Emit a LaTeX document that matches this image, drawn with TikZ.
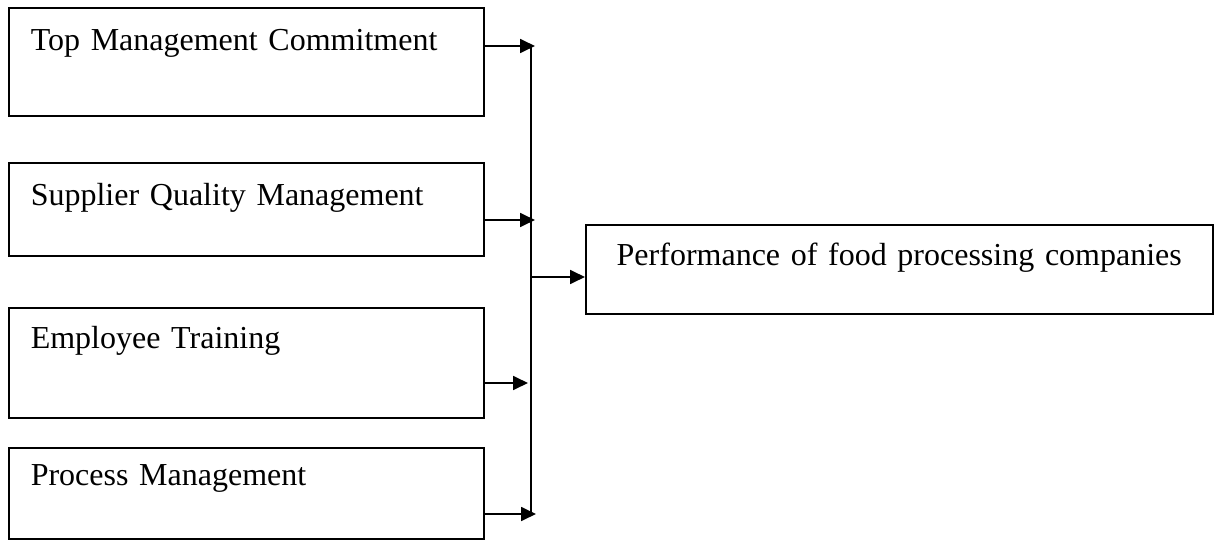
\documentclass[tikz,border=0pt]{standalone}
\usepackage{fontspec}
\setmainfont{Liberation Serif}
\usetikzlibrary{arrows.meta,positioning}
\tikzset{
  flow/.style={-{Triangle[length=5.6pt,width=5.2pt]}, line width=0.75pt, draw=black},
  bus/.style={line width=0.75pt, draw=black},
  factorbox/.style={draw=black, line width=0.6pt, anchor=north west, inner xsep=8.25pt, inner ysep=0pt, text width=161.6pt, align=left, font=\fontsize{12pt}{14pt}\selectfont},
  outcomebox/.style={draw=black, line width=0.6pt, anchor=north west, inner xsep=8pt, inner ysep=0pt, text width=219.1pt, align=center, font=\fontsize{12pt}{14pt}\selectfont}
}
\begin{document}
\begin{tikzpicture}[x=0.375pt, y=-0.375pt]
  \useasboundingbox (0,0) rectangle (1220,542);
  % factors
  \node[factorbox, text height=16.1pt, text depth=24.4pt] (top) at (8,7) {Top Management Commitment};
  \node[factorbox, text height=16.1pt, text depth=18.75pt] (supplier) at (8,162) {Supplier Quality Management};
  \node[factorbox, text height=15.4pt, text depth=25.9pt] (training) at (8,307) {Employee Training};
  \node[factorbox, text height=14.25pt, text depth=19.9pt] (process) at (8,447) {Process Management};
  % outcome
  \node[outcomebox, text height=15.4pt, text depth=18pt] (perf) at (585,224) {Performance of food processing companies};
  % arrow tips and bus
  \coordinate (t1) at (535,46);
  \coordinate (t2) at (535,220);
  \coordinate (t3) at (528,383);
  \coordinate (t4) at (536,514);
  \coordinate (bustop) at (531,46);
  \coordinate (busbot) at (531,514);
  \coordinate (busmid) at (531,277);
  \draw[flow] (top.east |- t1) -- (t1);
  \draw[flow] (supplier.east |- t2) -- (t2);
  \draw[flow] (training.east |- t3) -- (t3);
  \draw[flow] (process.east |- t4) -- (t4);
  \draw[bus] (bustop) -- (busbot);
  \draw[flow] (busmid) -- (busmid -| perf.west);
\end{tikzpicture}
\end{document}
